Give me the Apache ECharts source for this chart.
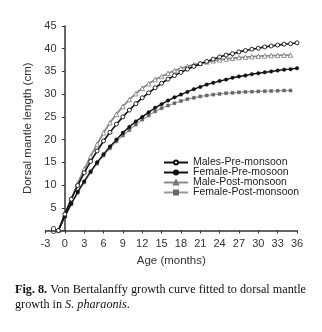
<!DOCTYPE html>
<html>
<head>
<meta charset="utf-8">
<script src="https://cdn.jsdelivr.net/npm/echarts@6/dist/echarts.min.js"></script>
<style>
  html, body { margin: 0; padding: 0; background: #fff; }
  #chart { width: 322px; height: 332px; }
</style>
</head>
<body>
<div id="chart"></div>
<script>
// months (age) for each curve
var monthsPre = [-1,0,1,2,3,4,5,6,7,8,9,10,11,12,13,14,15,16,17,18,19,20,21,22,23,24,25,26,27,28,29,30,31,32,33,34,35,36];
var monthsPost = [-1,0,1,2,3,4,5,6,7,8,9,10,11,12,13,14,15,16,17,18,19,20,21,22,23,24,25,26,27,28,29,30,31,32,33,34,35];

// dorsal mantle length (cm)
var malesPre = [0,3.6,6.9,9.9,12.7,15.2,17.5,19.7,21.6,23.4,25.0,26.5,27.9,29.2,30.3,31.4,32.4,33.3,34.1,34.8,35.5,36.1,36.7,37.2,37.7,38.2,38.6,38.9,39.3,39.6,39.9,40.1,40.4,40.6,40.8,41.0,41.1,41.3];
var femalePre = [0,3.1,5.9,8.5,10.8,13.0,15.0,16.8,18.5,20.0,21.5,22.8,24.0,25.0,26.0,27.0,27.8,28.6,29.3,29.9,30.5,31.1,31.6,32.1,32.5,32.9,33.2,33.6,33.9,34.1,34.4,34.6,34.8,35.0,35.2,35.4,35.5,35.7];
var malePost = [0,3.4,7.0,10.4,13.5,16.3,19.0,21.5,23.7,25.6,27.3,28.8,30.1,31.3,32.3,33.2,33.9,34.6,35.2,35.7,36.1,36.5,36.8,37.1,37.35,37.55,37.75,37.9,38.05,38.15,38.25,38.35,38.42,38.48,38.53,38.57,38.6];
var femalePost = [0,3.0,5.8,8.3,10.6,12.8,14.7,16.5,18.1,19.6,20.9,22.1,23.3,24.4,25.3,26.2,26.9,27.5,28.0,28.5,28.9,29.2,29.5,29.7,29.9,30.05,30.2,30.3,30.4,30.5,30.55,30.6,30.65,30.7,30.75,30.8,30.8];

var seriesNames = ['Males-Pre-monsoon','Female-Pre-mosoon','Male-Post-monsoon','Female-Post-monsoon'];

function pairs(xs, ys) {
    return xs.map(function (x, i) { return [x, ys[i]]; });
}

var axisFont = { fontFamily: 'Liberation Sans', fontSize: 11, color: '#333' };
var nameFont = { fontFamily: 'Liberation Sans', fontSize: 11.5, color: '#333' };

var option = {
    backgroundColor: '#fff',
    animation: false,
    grid: { left: 45.5, right: 25, top: 26, bottom: 101.5 },
    legend: {
        orient: 'vertical',
        left: 158,
        top: 152,
        itemWidth: 24,
        itemHeight: 5,
        itemGap: -1,
        data: seriesNames,
        textStyle: { fontFamily: 'Liberation Sans', fontSize: 10.5, color: '#222' }
    },
    xAxis: {
        type: 'value',
        min: -3,
        max: 36,
        interval: 3,
        name: 'Age (months)',
        nameLocation: 'middle',
        nameGap: 23,
        nameTextStyle: nameFont,
        axisLine: { onZero: false, lineStyle: { color: '#333', width: 1.5 } },
        axisTick: { length: 3, lineStyle: { color: '#333' } },
        axisLabel: axisFont,
        splitLine: { show: false }
    },
    yAxis: {
        type: 'value',
        min: 0,
        max: 45,
        interval: 5,
        name: 'Dorsal mantle length (cm)',
        nameLocation: 'middle',
        nameGap: 11,
        nameTextStyle: nameFont,
        axisLine: { show: true, onZero: true, lineStyle: { color: '#333', width: 1.5 } },
        axisTick: { show: true, length: 3, lineStyle: { color: '#333' } },
        axisLabel: Object.assign({ margin: -11 }, axisFont),
        splitLine: { show: false }
    },
    series: [
        {
            name: 'Female-Post-monsoon',
            type: 'line',
            data: pairs(monthsPost, femalePost),
            symbol: 'rect',
            symbolSize: 3,
            lineStyle: { color: '#9a9a9a', width: 1.2 },
            itemStyle: { color: '#666', borderColor: '#666', borderWidth: 0.5 },
            z: 2
        },
        {
            name: 'Male-Post-monsoon',
            type: 'line',
            data: pairs(monthsPost, malePost),
            symbol: 'triangle',
            symbolSize: 4.5,
            lineStyle: { color: '#8a8a8a', width: 1.8 },
            itemStyle: { color: '#fff', borderColor: '#777', borderWidth: 0.8 },
            z: 3
        },
        {
            name: 'Female-Pre-mosoon',
            type: 'line',
            data: pairs(monthsPre, femalePre),
            symbol: 'circle',
            symbolSize: 3.5,
            lineStyle: { color: '#111', width: 1.4 },
            itemStyle: { color: '#111', borderColor: '#111', borderWidth: 0.5 },
            z: 4
        },
        {
            name: 'Males-Pre-monsoon',
            type: 'line',
            data: pairs(monthsPre, malesPre),
            symbol: 'circle',
            symbolSize: 4,
            lineStyle: { color: '#111', width: 1.6 },
            itemStyle: { color: '#fff', borderColor: '#111', borderWidth: 0.9 },
            z: 5
        }
    ],
    graphic: [
        {
            type: 'text',
            left: 15,
            top: 282,
            style: {
                text: '{b|Fig. 8.} Von Bertalanffy growth curve fitted to dorsal mantle\ngrowth in {i|S. pharaonis}.',
                font: '12.2px "Liberation Serif"',
                fill: '#111',
                lineHeight: 15,
                rich: {
                    b: { fontWeight: 'bold', fontFamily: 'Liberation Serif', fontSize: 12.2, fill: '#111', lineHeight: 15 },
                    i: { fontStyle: 'italic', fontFamily: 'Liberation Serif', fontSize: 12.2, fill: '#111', lineHeight: 15 }
                }
            }
        }
    ]
};

var chart = echarts.init(document.getElementById('chart'));
chart.setOption(option);
</script>
</body>
</html>
